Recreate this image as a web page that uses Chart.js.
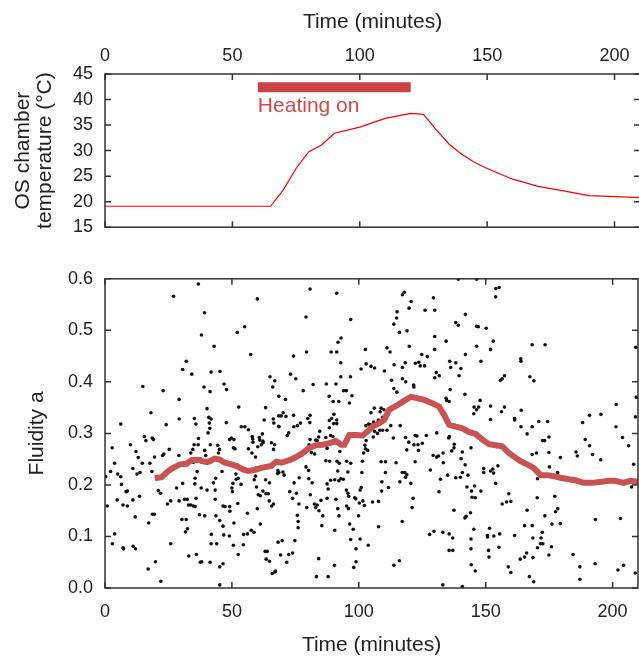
<!DOCTYPE html>
<html>
<head>
<meta charset="utf-8">
<script src="https://cdn.jsdelivr.net/npm/chart.js@4.4.1/dist/chart.umd.min.js"></script>
<style>
  html, body { margin: 0; padding: 0; background: #fff; overflow: hidden; }
  #wrap { position: relative; width: 639px; height: 656px; overflow: hidden; }
  .box { position: absolute; left: 0; width: 642px; }
  #topBox { top: 0; height: 250px; }
  #bottomBox { top: 256px; height: 402px; }
</style>
</head>
<body>
<div id="wrap">
  <div class="box" id="topBox"><canvas id="tempChart"></canvas></div>
  <div class="box" id="bottomBox"><canvas id="fluidChart"></canvas></div>
</div>
<script>
// ---- data ----
const timeTicks = [0, 50, 100, 150, 200]
const timeMax = 210

// OS chamber temperature (°C)
const tempTime = [0, 65, 70, 75, 80, 85, 90, 100, 110, 120, 125, 130, 135, 140, 145, 150, 160, 170, 180, 190, 210]
const tempValue = [19.1, 19.1, 22.3, 26.5, 29.8, 31.1, 33.4, 34.6, 36.3, 37.3, 37.1, 34.1, 31.3, 29.3, 27.7, 26.5, 24.4, 23.0, 22.1, 21.2, 20.8]

// heating period
const heatTime = [60, 120]
const heatLevel = 42.4
const heatingLabel = 'Heating on'

// running average of fluidity
const avgTime = [19.6, 22.3, 24.9, 26.8, 29.5, 32.1, 34.1, 36.7, 39.3, 41.3, 43.2, 45.2, 47.2, 49.1, 51.7, 54.4, 56.3, 58.9, 61.6, 63.5, 65.5, 67.5, 69.4, 71.4, 74.0, 75.9, 77.9, 80.5, 83.2, 85.8, 88.4, 91.0, 93.0, 94.3, 96.3, 98.9, 101.5, 103.5, 105.4, 108.1, 110.0, 112.0, 115.2, 118.5, 120.5, 122.5, 125.8, 129.1, 131.6, 133.6, 135.6, 138.2, 140.8, 143.4, 146.0, 148.7, 151.3, 153.9, 156.5, 159.1, 161.7, 163.7, 166.3, 168.9, 171.6, 174.2, 176.8, 179.4, 182.7, 185.3, 188.6, 191.9, 195.8, 198.4, 201.0, 204.3, 206.9, 210]
const avgValue = [0.213, 0.215, 0.227, 0.233, 0.240, 0.241, 0.248, 0.249, 0.245, 0.246, 0.251, 0.249, 0.243, 0.241, 0.237, 0.230, 0.227, 0.229, 0.233, 0.235, 0.237, 0.245, 0.243, 0.246, 0.251, 0.256, 0.262, 0.272, 0.277, 0.278, 0.281, 0.285, 0.278, 0.278, 0.297, 0.297, 0.296, 0.304, 0.313, 0.320, 0.326, 0.346, 0.355, 0.365, 0.371, 0.369, 0.365, 0.358, 0.352, 0.336, 0.317, 0.313, 0.310, 0.303, 0.299, 0.288, 0.279, 0.277, 0.275, 0.262, 0.253, 0.246, 0.240, 0.233, 0.219, 0.219, 0.217, 0.214, 0.211, 0.209, 0.204, 0.204, 0.206, 0.208, 0.208, 0.204, 0.208, 0.206]

// individual fluidity readings [time, fluidity]
const fluidityReadings = [
  [36.8,.590],[80.8,.580],[27.0,.566],[91.3,.572],[39.2,.534],[60.0,.561],[79.2,.526],[38.0,.491],[55.0,.507],[52.1,.496],
  [43.0,.469],[96.8,.521],[93.0,.485],[91.8,.477],[57.4,.453],[74.3,.450],[79.4,.458],[89.1,.458],[91.3,.458],[102.6,.463],
  [111.1,.466],[32.0,.440],[30.6,.424],[45.3,.420],[34.2,.415],[41.8,.419],[92.9,.437],[104.8,.430],[102.9,.435],[106.2,.427],
  [100.9,.425],[110.1,.421],[14.9,.391],[39.0,.390],[46.9,.396],[41.4,.381],[47.9,.385],[22.9,.383],[29.2,.366],[65.0,.410],
  [66.9,.402],[73.1,.415],[75.2,.406],[66.1,.390],[68.5,.372],[71.1,.366],[78.1,.383],[82.0,.395],[87.2,.396],[91.0,.396],
  [94.0,.383],[95.1,.383],[97.3,.373],[92.9,.410],[96.7,.410],[88.3,.372],[89.9,.362],[92.1,.362],[96.3,.359],
  [6.2,.318],[2.8,.272],[3.8,.242],[2.2,.226],[0.3,.216],[0.9,.159],[5.0,.221],[6.2,.216],[8.3,.187],[8.8,.188],
  [6.5,.201],[4.8,.171],[7.1,.161],[8.8,.159],[10.0,.278],[11.0,.232],[12.2,.265],[13.1,.253],[12.6,.221],[13.8,.224],
  [11.0,.171],[11.9,.138],[13.6,.178],[14.7,.242],[15.5,.294],[16.1,.286],[18.1,.340],[18.6,.291],[19.1,.288],[17.7,.242],
  [19.5,.254],[18.5,.226],[17.2,.126],[18.7,.143],[19.5,.143],[21.0,.189],[21.9,.184],[22.7,.257],[23.2,.260],[24.1,.317],
  [25.3,.269],[25.9,.169],[24.6,.163],[28.2,.194],[29.2,.169],[29.2,.328],[29.1,.257],[30.6,.203],[31.3,.172],[32.4,.172],
  [30.3,.133],[32.0,.133],[31.7,.109],[32.5,.115],[32.9,.161],[33.8,.161],[34.8,.159],[35.5,.158],[33.8,.262],[34.6,.269],
  [34.8,.244],[35.1,.278],[35.4,.202],[35.5,.213],[36.3,.226],[35.2,.329],[35.8,.318],[36.8,.290],[36.7,.278],[37.5,.251],
  [38.1,.244],[39.3,.267],[39.7,.257],[40.3,.242],[40.6,.301],[40.2,.348],[40.9,.331],[41.1,.320],[41.8,.328],[41.3,.310],
  [41.5,.278],[42.7,.204],[43.4,.190],[43.6,.213],[43.4,.172],[40.2,.190],[37.9,.194],[35.9,.174],[37.2,.142],[39.3,.140],
  [41.9,.104],[44.4,.277],[45.1,.269],[44.7,.262],[45.2,.251],[46.1,.226],[47.8,.321],[46.5,.159],[47.3,.158],[49.1,.158],
  [49.2,.149],[43.7,.140],[45.2,.131],[46.5,.120],[44.0,.086],[46.8,.103],[41.4,.050],[37.5,.050],[45.2,.041],[46.5,.047],
  [45.2,.006],[49.1,.288],[49.8,.291],[50.8,.288],[50.6,.272],[51.2,.270],[52.7,.351],[53.7,.313],[51.6,.221],[51.7,.211],
  [52.5,.213],[50.4,.203],[50.0,.194],[50.2,.187],[53.6,.201],[52.3,.164],[50.8,.126],[49.0,.101],[50.6,.083],[52.5,.065],
  [54.5,.084],[54.6,.104],[56.1,.145],[56.1,.105],[57.6,.112],[58.7,.108],[55.1,.313],[56.5,.307],[58.0,.294],[58.2,.289],
  [58.3,.283],[56.5,.270],[57.9,.262],[59.3,.254],[60.2,.274],[60.8,.292],[61.0,.287],[61.6,.278],[62.2,.285],[62.0,.299],
  [62.3,.282],[63.3,.350],[62.7,.326],[59.5,.233],[58.8,.210],[59.3,.217],[63.3,.210],[64.8,.204],[59.7,.196],[60.4,.181],
  [61.2,.179],[62.2,.188],[63.4,.183],[64.3,.183],[64.7,.169],[65.7,.159],[66.4,.163],[61.2,.124],[60.0,.154],[63.1,.071],
  [63.9,.071],[63.5,.056],[64.8,.052],[65.9,.028],[66.9,.031],[68.2,.089],[69.8,.092],[67.6,.244],[66.5,.320],[66.3,.328],
  [68.4,.334],[69.4,.334],[70.2,.340],[71.3,.333],[65.6,.282],[66.4,.269],[66.8,.278],[68.4,.314],[68.6,.313],[68.1,.228],
  [68.5,.224],[68.0,.222],[70.1,.225],[70.6,.219],[71.8,.296],[72.4,.301],[73.3,.247],[74.5,.204],[72.8,.187],[73.9,.174],
  [75.4,.184],[75.8,.141],[76.1,.129],[76.1,.117],[76.4,.163],[74.8,.092],[73.9,.068],[69.2,.064],[72.4,.065],[71.6,.050],
  [74.4,.313],[74.3,.335],[75.8,.315],[77.0,.320],[80.7,.321],[80.8,.335],[79.9,.329],[80.8,.288],[80.4,.278],[81.3,.263],
  [82.6,.260],[83.0,.287],[83.6,.286],[84.2,.293],[84.6,.304],[77.5,.257],[79.2,.235],[76.5,.214],[80.2,.228],[80.3,.212],
  [81.6,.204],[80.9,.181],[79.5,.156],[82.5,.163],[83.0,.156],[83.6,.161],[84.3,.150],[85.1,.170],[85.8,.140],[85.4,.121],
  [84.2,.057],[83.3,.022],[87.9,.022],[87.9,.192],[87.5,.174],[87.5,.202],[88.9,.209],[88.5,.246],[87.0,.247],[87.5,.271],
  [87.0,.292],[88.9,.296],[88.4,.311],[88.4,.325],[89.3,.329],[90.2,.337],[91.3,.326],[91.3,.319],[90.1,.319],[89.8,.294],
  [90.6,.287],[92.5,.265],[92.3,.242],[91.4,.246],[91.7,.227],[92.9,.212],[90.5,.210],[92.1,.208],[91.0,.172],[91.7,.154],
  [92.2,.140],[90.5,.112],[90.4,.044],[93.9,.211],[95.7,.225],[96.8,.242],[95.2,.246],[95.1,.190],[95.7,.184],[96.0,.178],
  [95.2,.159],[95.9,.154],[99.9,.140],[96.4,.124],[97.8,.114],[96.8,.094],[98.9,.076],[98.9,.051],[98.0,.040],[100.5,.095],
  [98.4,.175],[98.8,.173],[100.2,.165],[102.2,.160],[100.5,.190],[101.2,.224],[101.4,.246],[101.9,.262],[102.6,.270],[103.5,.267],
  [102.4,.277],[102.9,.286],[103.2,.303],[102.8,.315],[103.9,.318],[104.5,.317],[105.8,.322],[107.4,.321],[107.4,.300],[106.2,.304],
  [105.7,.293],[107.7,.326],[104.8,.340],[106.1,.349],[108.4,.342],[108.8,.349],[109.9,.346],[109.4,.331],[108.3,.306],[109.4,.306],
  [111.1,.306],[108.8,.245],[109.1,.206],[110.5,.224],[110.5,.245],[111.7,.195],[109.0,.188],[107.8,.119],[103.7,.083],[107.8,.168],
  [105.4,.167],[101.6,.169],[101.0,.195],
  [22.0,.013],[19.9,.051],[17.0,.037],[25.9,.086],[2.9,.086],[3.8,.105],[7.1,.078],[11.1,.081],[12.0,.076],[7.3,.076],
  [33.0,.062],[36.0,.065],[38.1,.051],[41.8,.086],[67.2,.033],
  [139.2,.599],[146.4,.599],[154.0,.581],[155.3,.583],[153.9,.565],[117.9,.574],[117.2,.569],[120.6,.556],[119.8,.543],[129.4,.563],
  [129.9,.539],[126.1,.539],[115.1,.536],[114.9,.524],[113.8,.512],[116.0,.496],[119.0,.499],[142.0,.531],[138.2,.515],[139.2,.510],
  [146.4,.508],[147.1,.507],[150.2,.504],[129.9,.488],[134.4,.479],[153.0,.479],[151.9,.463],[146.4,.469],[142.0,.453],[129.9,.463],
  [119.9,.469],[124.8,.453],[127.0,.449],[112.3,.458],[163.8,.445],[163.9,.440],[168.3,.472],[173.4,.472],[135.8,.440],[138.2,.437],
  [148.1,.440],[123.6,.438],[122.3,.436],[118.3,.437],[124.2,.431],[125.9,.431],[113.9,.433],[117.2,.428],[130.5,.418],[129.9,.408],
  [131.7,.412],[136.2,.428],[140.2,.426],[139.5,.412],[156.5,.406],[157.4,.412],[155.8,.403],[167.4,.410],[169.0,.402],[112.9,.403],
  [113.8,.387],[117.2,.406],[118.5,.400],[121.6,.394],[121.7,.390],[115.0,.380],[136.0,.385],[134.4,.368],[134.6,.364],[135.6,.362],
  [141.8,.376],[147.8,.364],[151.9,.353],[147.2,.351],[145.4,.351],[146.4,.346],[145.3,.338],[157.4,.351],[156.2,.342],[164.0,.345],
  [161.4,.329],[161.4,.326],[151.9,.327],[170.9,.323],[174.4,.323],[168.3,.313],[163.9,.313],[166.3,.299],[172.4,.286],[173.2,.286],
  [174.9,.293],[168.3,.259],[170.0,.262],[174.9,.263],[179.4,.253],[185.6,.264],[186.1,.256],[188.2,.321],[190.9,.335],[189.2,.288],
  [190.9,.276],[192.1,.259],[195.4,.337],[195.3,.249],[201.4,.356],[201.3,.313],[203.9,.292],[206.3,.276],[208.3,.240],[209.0,.332],
  [209.3,.370],[209.1,.467],[207.5,.196],
  [113.6,.291],[112.6,.315],[116.3,.315],[118.4,.292],[118.9,.268],[119.7,.283],[122.2,.296],[122.9,.295],[123.5,.267],[126.6,.296],
  [125.0,.281],[118.1,.224],[118.9,.220],[117.1,.224],[120.5,.203],[122.2,.245],[121.4,.174],[121.0,.156],[117.1,.129],[116.0,.053],
  [113.8,.044],[123.3,.278],[128.2,.229],[129.3,.257],[130.7,.301],[131.4,.256],[130.7,.254],[131.6,.187],[132.2,.211],[133.3,.243],
  [133.2,.262],[135.4,.291],[135.7,.294],[137.6,.279],[137.5,.272],[140.8,.264],[140.3,.251],[136.6,.266],[141.9,.239],[140.8,.224],
  [140.0,.215],[138.2,.214],[143.0,.219],[144.2,.272],[142.6,.196],[144.4,.188],[145.6,.198],[144.6,.176],[145.9,.175],[148.1,.188],
  [144.0,.146],[141.8,.136],[142.3,.139],[137.5,.151],[135.0,.219],[127.9,.104],[129.6,.110],[133.1,.108],[135.6,.105],[137.0,.097],
  [135.6,.073],[137.0,.073],[145.3,.114],[144.2,.095],[144.2,.076],[144.3,.045],[145.9,.033],[133.1,.006],[140.8,.003],[151.5,.116],
  [150.7,.102],[150.7,.099],[153.2,.101],[155.5,.105],[151.1,.073],[151.3,.060],[155.2,.079],[149.2,.224],[151.9,.227],[153.1,.223],
  [153.9,.203],[152.8,.231],[154.8,.237],[149.2,.232],[156.5,.163],[158.2,.167],[159.9,.168],[159.1,.183],[161.4,.102],[158.9,.041],
  [159.9,.030],[163.6,.056],[165.3,.060],[166.1,.068],[165.3,.121],[166.3,.151],[168.3,.121],[167.2,.022],[168.9,.012],[168.6,.059],
  [168.6,.097],[170.4,.078],[171.6,.086],[172.5,.086],[171.8,.097],[172.3,.108],[175.9,.080],[174.9,.064],[173.3,.140],[170.3,.175],
  [176.1,.124],[177.5,.148],[178.4,.154],[177.2,.178],[179.4,.125],[184.4,.065],[187.1,.041],[187.1,.017],[193.1,.047],[193.2,.133],
  [202.1,.035],[204.3,.044],[208.9,.029],[203.1,.135],[170.4,.212],[178.3,.224],[175.1,.235],[114.7,.243],[116.2,.206],[118.4,.215],
  [121.7,.278]
]

const fontFamily = '"Liberation Sans", Arial, sans-serif'
const textColor = '#222'

// frame with inward ticks on all four sides, plus the heating label
const framePlugin = {
  id: 'frame',
  afterDatasetsDraw(chart) {
    const ctx = chart.ctx
    const a = chart.chartArea
    const xs = chart.scales.x
    const ys = chart.scales.y
    const len = 6
    ctx.save()
    ctx.strokeStyle = '#333'
    ctx.lineWidth = 1.5
    ctx.strokeRect(a.left, a.top, a.right - a.left, a.bottom - a.top)
    ctx.beginPath()
    xs.ticks.forEach(t => {
      const px = xs.getPixelForValue(t.value)
      ctx.moveTo(px, a.top); ctx.lineTo(px, a.top + len)
      ctx.moveTo(px, a.bottom); ctx.lineTo(px, a.bottom - len)
    })
    ys.ticks.forEach(t => {
      const py = ys.getPixelForValue(t.value)
      ctx.moveTo(a.left, py); ctx.lineTo(a.left + len, py)
      ctx.moveTo(a.right, py); ctx.lineTo(a.right - len, py)
    })
    ctx.stroke()

    if (chart.canvas.id === 'tempChart') {
      ctx.fillStyle = 'rgb(212, 72, 76)'
      ctx.font = '21px ' + fontFamily
      ctx.textAlign = 'left'
      ctx.textBaseline = 'middle'
      ctx.fillText(heatingLabel, xs.getPixelForValue(heatTime[0]), ys.getPixelForValue(38.7))
    }
    ctx.restore()
  }
}

function xAxis(position, pad, titlePad, fitHeight) {
  return {
    type: 'linear',
    position: position,
    min: 0,
    max: timeMax,
    grid: { display: false, drawTicks: false },
    border: { display: false },
    ticks: {
      stepSize: 50,
      includeBounds: false,
      padding: pad,
      maxRotation: 0,
      color: textColor,
      font: { family: fontFamily, size: 18 },
      callback: v => timeTicks.includes(v) ? String(v) : ''
    },
    title: {
      display: true,
      text: 'Time (minutes)',
      color: textColor,
      font: { family: fontFamily, size: 21 },
      padding: titlePad
    },
    afterFit: s => { s.height = fitHeight }
  }
}

function yAxis(min, max, step, decimals, titleText, titlePad) {
  return {
    min: min,
    max: max,
    grid: { display: false, drawTicks: false },
    border: { display: false },
    ticks: {
      stepSize: step,
      padding: 12,
      color: textColor,
      font: { family: fontFamily, size: 18 },
      callback: v => Number(v).toFixed(decimals)
    },
    title: {
      display: true,
      text: titleText,
      color: textColor,
      font: { family: fontFamily, size: 21, lineHeight: 1.05 },
      padding: titlePad
    },
    afterFit: s => { s.width = 105 }
  }
}

// ---- top panel: temperature ----
new Chart(document.getElementById('tempChart'), {
  type: 'scatter',
  data: {
    datasets: [
      {
        data: heatTime.map(t => ({ x: t, y: heatLevel })),
        showLine: true,
        borderColor: 'rgb(204, 66, 66)',
        borderWidth: 10,
        borderCapStyle: 'butt',
        pointRadius: 0
      },
      {
        data: tempTime.map((t, i) => ({ x: t, y: tempValue[i] })),
        showLine: true,
        borderColor: '#ff0000',
        borderWidth: 1.2,
        pointRadius: 0
      }
    ]
  },
  options: {
    animation: false,
    responsive: true,
    maintainAspectRatio: false,
    layout: { padding: { top: 0, right: 2, bottom: 4, left: 0 } },
    plugins: { legend: { display: false }, tooltip: { enabled: false } },
    scales: {
      x: xAxis('top', 7, { top: 10, bottom: 0 }, 74),
      y: yAxis(15, 45, 5, 0, ['OS chamber', 'temperature (°C)'], { top: 12, bottom: 0 })
    }
  },
  plugins: [framePlugin]
})

// ---- bottom panel: fluidity ----
new Chart(document.getElementById('fluidChart'), {
  type: 'scatter',
  data: {
    datasets: [
      {
        data: avgTime.map((t, i) => ({ x: t, y: avgValue[i] })),
        showLine: true,
        borderColor: 'rgb(201, 82, 82)',
        borderWidth: 6,
        pointRadius: 0
      },
      {
        data: fluidityReadings.map(p => ({ x: p[0], y: p[1] })),
        pointRadius: 1.8,
        pointBackgroundColor: '#111',
        pointBorderWidth: 0
      }
    ]
  },
  options: {
    animation: false,
    responsive: true,
    maintainAspectRatio: false,
    layout: { padding: { top: 20, right: 2, bottom: 0, left: 0 } },
    plugins: { legend: { display: false }, tooltip: { enabled: false } },
    scales: {
      x: xAxis('bottom', 13, { top: 0, bottom: 0 }, 70),
      y: yAxis(0, 0.6, 0.1, 1, 'Fluidity a', { top: 26, bottom: 0 })
    }
  },
  plugins: [framePlugin]
})
</script>
</body>
</html>
